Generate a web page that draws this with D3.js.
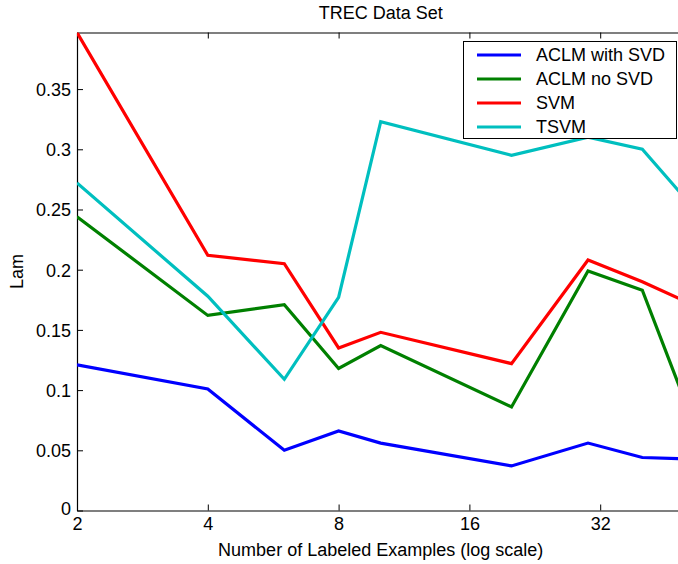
<!DOCTYPE html>
<html>
<head>
<meta charset="utf-8">
<script src="https://cdn.jsdelivr.net/npm/d3@7"></script>
<style>
  html, body { margin: 0; padding: 0; background: #fff; }
  svg { display: block; font-family: "Liberation Sans", Arial, sans-serif; }
</style>
</head>
<body>
<svg id="chart" width="678" height="564"></svg>
<script>
// ---- data ----
const labeledExamples = [2, 4, 6, 8, 10, 20, 30, 40, 50];
const aclmWithSvd = [0.121, 0.101, 0.050, 0.066, 0.056, 0.037, 0.056, 0.044, 0.043];
const aclmNoSvd   = [0.244, 0.162, 0.171, 0.118, 0.137, 0.086, 0.199, 0.183, 0.092];
const svm         = [0.397, 0.212, 0.205, 0.135, 0.148, 0.122, 0.208, 0.190, 0.174];
const tsvm        = [0.272, 0.178, 0.109, 0.177, 0.323, 0.295, 0.310, 0.300, 0.260];
const seriesNames = ["ACLM with SVD", "ACLM no SVD", "SVM", "TSVM"];
const seriesColors = ["#0000ff", "#008000", "#ff0000", "#00bfbf"];
const xTickValues = [2, 4, 8, 16, 32];
const yTickValues = [0, 0.05, 0.1, 0.15, 0.2, 0.25, 0.3, 0.35];

const seriesValues = [aclmWithSvd, aclmNoSvd, svm, tsvm];
const yMax = d3.max(seriesValues.flat());

const svg = d3.select("#chart");
const mLeft = 77, mTop = 32.5, mBottom = 510.5;
const octave = 130.8;
const mRight = mLeft + octave * Math.log2(50 / 2);

const x = d3.scaleLog().base(2).domain([2, 50]).range([mLeft, mRight]);
const y = d3.scaleLinear().domain([0, yMax]).range([mBottom, mTop]);

svg.append("rect").attr("width", 678).attr("height", 564).attr("fill", "#fff");

svg.append("defs").append("clipPath").attr("id", "clip")
  .append("rect").attr("x", mLeft).attr("y", mTop).attr("width", mRight - mLeft).attr("height", mBottom - mTop);

const fs = 18;

// axes
const xAxis = d3.axisBottom(x).tickValues(xTickValues).tickFormat(d3.format("d"))
  .tickSizeInner(-6).tickSizeOuter(0).tickPadding(5);
const gx = svg.append("g").attr("transform", `translate(0,${mBottom})`).call(xAxis);
const xAxisTop = d3.axisTop(x).tickValues(xTickValues).tickFormat("")
  .tickSizeInner(-6).tickSizeOuter(0);
const gxt = svg.append("g").attr("transform", `translate(0,${mTop})`).call(xAxisTop);
const yAxis = d3.axisLeft(y).tickValues(yTickValues)
  .tickFormat(d => d === 0 ? "0" : String(+d.toFixed(2)))
  .tickSizeInner(-6).tickSizeOuter(0).tickPadding(6);
const gy = svg.append("g").attr("transform", `translate(${mLeft},0)`).call(yAxis);

[gx, gxt, gy].forEach(g => {
  g.select(".domain").attr("stroke", "#000").attr("stroke-width", 1.2);
  g.selectAll(".tick line").attr("stroke", "#000").attr("stroke-width", 1);
  g.selectAll(".tick text").attr("fill", "#000").attr("font-size", fs)
    .attr("font-family", "Liberation Sans, Arial, sans-serif");
});
gx.selectAll(".tick text").attr("dy", "0.8em");
gy.selectAll(".tick text").attr("dy", "0.35em");
gy.selectAll(".tick").filter(d => d === 0).select("text").attr("dy", "0.2em");

// lines
const line = d3.line().x((d, i) => x(labeledExamples[i])).y(d => y(d));
const plot = svg.append("g").attr("clip-path", "url(#clip)");
seriesValues.forEach((vals, k) => {
  plot.append("path").datum(vals)
    .attr("d", line)
    .attr("fill", "none")
    .attr("stroke", seriesColors[k])
    .attr("stroke-width", 3.2)
    .attr("stroke-linejoin", "miter");
});

// title & labels
svg.append("text").attr("x", (mLeft + mRight) / 2).attr("y", 19)
  .attr("text-anchor", "middle").attr("font-size", fs).text("TREC Data Set");
svg.append("text").attr("x", (mLeft + mRight) / 2).attr("y", 556)
  .attr("text-anchor", "middle").attr("font-size", fs).text("Number of Labeled Examples (log scale)");
svg.append("text").attr("transform", `translate(23,${(mTop + mBottom) / 2}) rotate(-90)`)
  .attr("text-anchor", "middle").attr("font-size", fs).text("Lam");

// legend
const lg = svg.append("g");
lg.append("rect").attr("x", 463.5).attr("y", 41.5).attr("width", 213).attr("height", 97)
  .attr("fill", "#fff").attr("stroke", "#000").attr("stroke-width", 1);
seriesNames.forEach((name, k) => {
  const cy = 55 + k * 24;
  lg.append("line").attr("x1", 477).attr("x2", 521).attr("y1", cy).attr("y2", cy)
    .attr("stroke", seriesColors[k]).attr("stroke-width", 3.2);
  lg.append("text").attr("x", 536).attr("y", cy).attr("dy", "0.35em")
    .attr("font-size", fs).text(name);
});
</script>
</body>
</html>
